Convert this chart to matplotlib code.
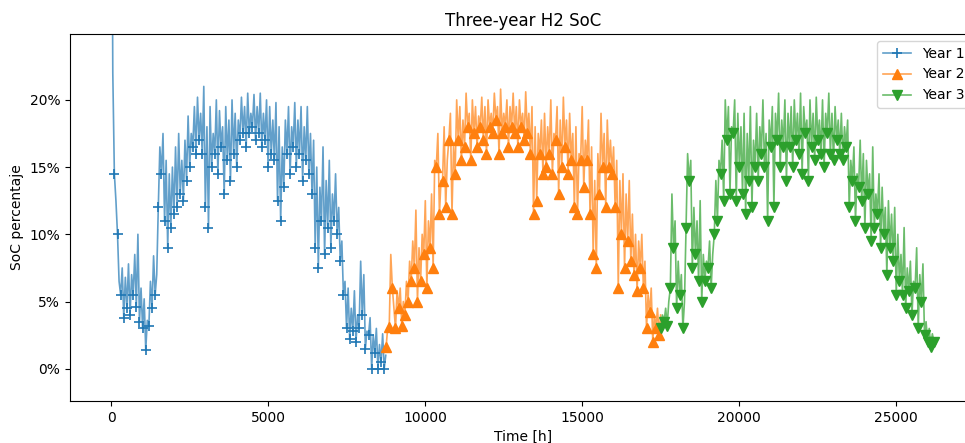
import numpy as np
import matplotlib
matplotlib.use("Agg")
import matplotlib.pyplot as plt
from matplotlib.colors import to_rgba
from matplotlib.ticker import PercentFormatter

# Sampling: one trough/spike pair every 100 h, 8760 h per year
hours_per_year = 8760
step_h = 100

year_labels = ["Year 1", "Year 2", "Year 3"]

# SoC [%] at the troughs (marker points) and at the spikes between them
year1_low = [48, 14.5, 10, 5.5, 3.8, 4.5, 4.0, 5.5, 4.6, 3.5, 3.0, 1.4, 3.2, 4.5, 5.5,
             12.0, 14.5, 11.0, 9.0, 10.5, 11.5, 12.0, 13.0, 12.5, 14.0, 15.0, 16.5, 16.0,
             17.0, 16.0, 12.0, 10.5, 15.0, 16.0, 14.5, 16.5, 13.0, 15.5, 14.0, 16.0, 15.0,
             17.0, 17.5, 16.5, 17.5, 18.0, 17.0, 17.5, 16.5, 17.0, 15.0, 16.0, 15.5, 12.5,
             11.0, 13.5, 16.0, 14.5, 16.5, 15.0, 16.0, 14.0, 15.5, 14.5, 13.0, 9.0, 7.5,
             11.0, 8.5, 10.5, 9.0, 11.0, 10.0, 8.0, 5.5, 3.0, 2.2, 2.8, 2.0, 3.0, 4.0, 1.5,
             2.5, 0.0, 1.2, 0.0, 0.5, 0.0]
year1_high = [22, 12.5, 6.5, 7.5, 6.8, 7.8, 7.0, 8.5, 10.0, 6.0, 5.2, 3.6, 6.5, 8.4, 7.0,
              16.5, 17.5, 15.5, 14.5, 15.0, 16.5, 17.5, 15.5, 17.0, 18.8, 17.5, 19.5, 20.2,
              19.0, 21.0, 18.0, 19.5, 17.5, 20.0, 19.2, 18.0, 19.5, 18.5, 20.0, 19.0, 18.5,
              20.2, 19.5, 20.5, 19.0, 20.4, 19.5, 20.5, 19.0, 20.0, 19.5, 18.5, 19.8, 18.0,
              16.5, 18.5, 19.5, 18.0, 19.8, 18.5, 19.5, 18.0, 19.5, 17.5, 17.0, 15.0, 13.5,
              16.5, 14.0, 15.5, 13.0, 14.5, 12.0, 9.5, 6.5, 6.0, 4.5, 5.8, 4.0, 8.0, 7.0, 2.8,
              3.8, 2.5, 3.0, 1.8, 2.6, 1.0]

year2_low = [1.6, 3.1, 6.0, 3.0, 4.5, 3.2, 4.0, 5.0, 6.5, 7.5, 5.0, 6.5, 8.5, 6.0, 9.0,
             7.5, 15.0, 11.5, 14.0, 12.0, 17.0, 11.5, 14.5, 17.0, 15.5, 16.5, 18.0, 15.5,
             17.5, 16.5, 18.0, 17.0, 16.0, 18.0, 17.5, 18.5, 16.0, 17.5, 18.0, 16.5, 18.0,
             17.5, 16.5, 18.0, 17.0, 17.5, 16.0, 11.5, 12.5, 16.0, 14.5, 15.0, 16.0, 14.5,
             17.0, 13.0, 15.0, 16.5, 14.5, 15.5, 12.0, 11.5, 15.5, 13.5, 15.5, 11.5, 8.5,
             7.5, 13.0, 15.0, 12.0, 15.0, 14.5, 12.0, 6.0, 10.0, 7.5, 9.5, 8.0, 7.0, 5.8,
             7.5, 6.0, 3.0, 4.2, 2.0, 3.0, 2.5]
year2_high = [3.0, 8.5, 4.5, 5.8, 6.0, 5.0, 6.5, 8.0, 9.5, 11.8, 9.0, 10.0, 12.5, 11.0, 13.0,
              15.5, 17.5, 14.0, 18.0, 15.5, 19.0, 16.5, 20.0, 19.5, 18.5, 20.5, 19.0, 20.0,
              19.5, 18.8, 20.2, 19.5, 20.0, 19.0, 20.5, 19.5, 20.8, 19.0, 20.0, 19.5, 20.5,
              19.5, 20.0, 19.0, 20.6, 19.0, 19.5, 18.0, 17.5, 18.5, 19.0, 18.0, 20.0, 17.5,
              19.5, 18.5, 20.2, 18.5, 19.0, 17.5, 18.0, 16.0, 19.5, 17.0, 18.5, 16.5, 14.0,
              16.0, 19.0, 17.5, 18.5, 17.0, 16.5, 15.5, 14.0, 14.5, 13.0, 14.0, 11.5, 10.0,
              9.5, 10.0, 8.0, 5.5, 6.0, 4.0, 4.5, 4.0]

year3_low = [3.0, 3.5, 3.2, 6.0, 9.0, 4.5, 5.5, 3.0, 10.5, 14.0, 7.5, 8.5, 6.5, 5.0, 6.5,
             7.5, 6.0, 10.0, 11.0, 14.5, 12.5, 17.0, 13.0, 17.5, 12.5, 15.0, 13.0, 11.5,
             14.0, 12.0, 15.0, 14.0, 16.0, 15.0, 11.0, 16.5, 12.0, 17.0, 15.0, 16.5, 14.0,
             16.5, 15.0, 17.0, 16.0, 14.5, 17.5, 14.0, 16.5, 15.5, 17.0, 16.0, 15.0, 17.5,
             16.0, 15.5, 17.0, 16.0, 15.5, 16.5, 12.0, 14.0, 11.0, 13.5, 12.5, 10.5, 13.0,
             9.5, 10.5, 11.5, 9.0, 10.0, 7.0, 9.0, 8.0, 5.5, 6.5, 5.5, 4.5, 5.8, 4.0, 6.0,
             3.0, 5.0, 2.5, 2.0, 1.6, 2.0]
year3_high = [4.0, 4.5, 5.0, 13.0, 11.0, 8.0, 7.0, 5.0, 16.0, 15.5, 12.0, 11.0, 12.5, 8.5, 8.0,
              9.5, 8.5, 14.0, 15.5, 17.0, 20.0, 19.5, 18.0, 20.0, 19.0, 18.0, 19.0, 17.5,
              19.5, 17.0, 19.0, 18.0, 20.0, 17.5, 18.5, 19.5, 19.0, 20.5, 18.5, 20.0, 19.0,
              19.5, 20.0, 19.0, 20.5, 19.5, 18.5, 20.0, 19.0, 20.2, 18.5, 20.0, 19.0, 20.5,
              19.0, 19.5, 18.5, 19.0, 18.0, 18.5, 15.5, 16.5, 14.5, 17.0, 16.0, 15.5, 14.5,
              16.5, 13.0, 14.5, 13.5, 12.0, 12.5, 11.5, 12.0, 10.0, 8.5, 10.5, 7.5, 8.0, 6.5,
              9.0, 7.0, 7.8, 3.5, 3.0, 2.6, 2.2]

lows = [year1_low, year2_low, year3_low]
highs = [year1_high, year2_high, year3_high]
markers = ["+", "^", "v"]
colors = ["C0", "C1", "C2"]
msizes = [7, 7, 7]

fig = plt.figure(figsize=(9.65, 4.43), dpi=100)
ax = fig.add_axes([70 / 965, 42 / 443, 907 / 965, 367 / 443])

for k in range(3):
    lo = np.asarray(lows[k], dtype=float)
    hi = np.asarray(highs[k], dtype=float)
    t0 = k * hours_per_year
    t_lo = t0 + np.arange(len(lo)) * step_h
    t_hi = t_lo + step_h / 2
    t = np.column_stack([t_lo, t_hi]).ravel()
    v = np.column_stack([lo, hi]).ravel()
    ax.plot(t, v, color=to_rgba(colors[k], 0.7), lw=1.2,
            marker=markers[k], markevery=2, ms=msizes[k],
            mfc=colors[k], mec=colors[k], mew=1.2 if k == 0 else 1.0,
            label=year_labels[k])

ax.set_xlim(-1314, 27593)
ax.set_ylim(-2.4, 24.9)
ax.yaxis.set_major_formatter(PercentFormatter(xmax=100, decimals=0))
ax.set_title("Three-year H2 SoC")
ax.set_xlabel("Time [h]")
ax.set_ylabel("SoC percentaje")
ax.legend(loc="upper right")

fig.savefig("out.png", dpi=100)
